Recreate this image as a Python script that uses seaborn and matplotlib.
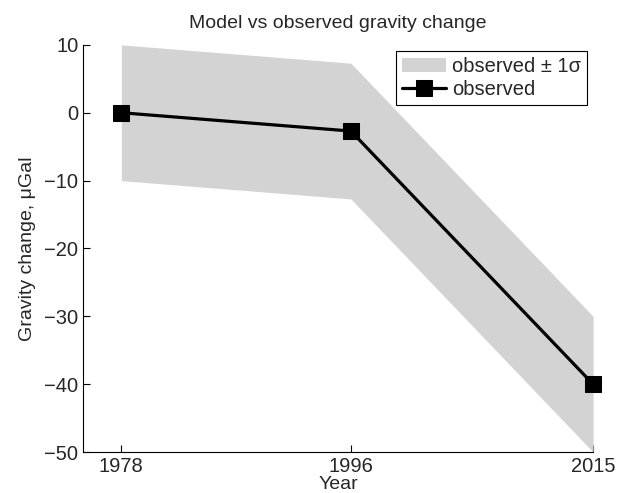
import numpy as np
import pandas as pd
import matplotlib
matplotlib.use("Agg")
import matplotlib.pyplot as plt
import seaborn as sns

# Survey epochs and observed gravity change (μGal) relative to 1978
years = [1978, 1996, 2015]
observed = [0.0, -2.7, -40.0]
sigma = [10.0, 10.0, 10.0]
x_ticks = [1978, 1996, 2015]
y_ticks = [-50, -40, -30, -20, -10, 0, 10]

sns.set_style("ticks")
plt.rcParams["font.family"] = ["Liberation Sans", "DejaVu Sans"]
plt.rcParams["xtick.direction"] = "in"
plt.rcParams["ytick.direction"] = "in"

df = pd.DataFrame({"year": years, "dg": observed, "sd": sigma})

fig = plt.figure(figsize=(6.25, 4.93), dpi=100)
ax = fig.add_axes([0.133, 0.083, 0.816, 0.826])

lower = df["dg"] - df["sd"]
upper = df["dg"] + df["sd"]
ax.fill_between(df["year"], lower, upper, color="#d3d3d3", linewidth=0,
                label="observed ± 1σ")

sns.lineplot(data=df, x="year", y="dg", ax=ax, color="black", linewidth=2.3,
             marker="s", markersize=11.5, markeredgecolor="black",
             markerfacecolor="black", label="observed", clip_on=False)

ax.set_xlim(1975, 2015)
ax.set_ylim(-50, 10)
ax.set_xticks(x_ticks)
ax.set_yticks(y_ticks)
ax.tick_params(labelsize=14.5, length=5, width=0.8, color="black")

for side in ("top", "right"):
    ax.spines[side].set_visible(False)
for side in ("left", "bottom"):
    ax.spines[side].set_color("black")
    ax.spines[side].set_linewidth(0.8)

ax.set_title("Model vs observed gravity change", fontsize=14, pad=12)
ax.set_xlabel("Year", fontsize=14, labelpad=0)
ax.set_ylabel("Gravity change, μGal", fontsize=14, labelpad=6)

leg = ax.legend(loc="upper right", fontsize=14.5, frameon=True, fancybox=False,
                borderaxespad=0.3, handlelength=2.2, handletextpad=0.3,
                borderpad=0.3, labelspacing=0.2)
leg.get_frame().set_edgecolor("black")
leg.get_frame().set_linewidth(0.8)
leg.get_frame().set_alpha(1)

fig.savefig("out.png", dpi=100)
